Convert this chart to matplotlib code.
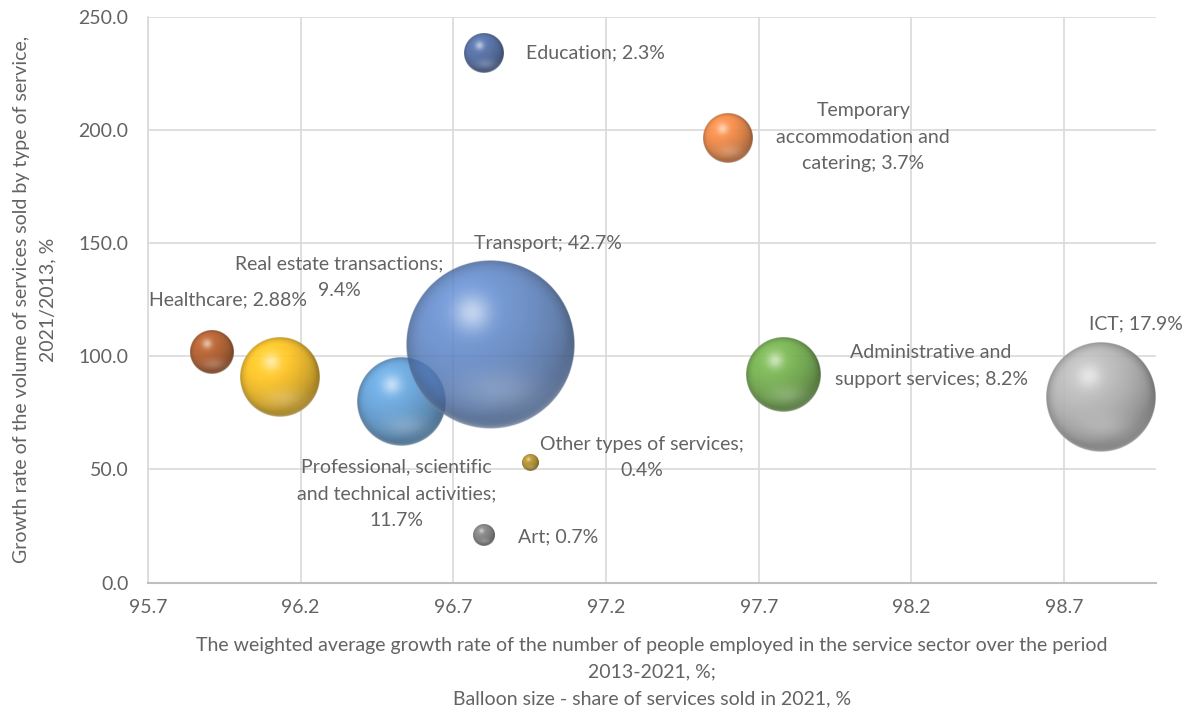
import numpy as np
import matplotlib.pyplot as plt
from matplotlib.colors import to_rgb
from matplotlib.ticker import FormatStrFormatter

# data
labels = ["Education; 2.3%",
          "Temporary\naccommodation and\ncatering; 3.7%",
          "Healthcare; 2.88%",
          "Real estate transactions;\n9.4%",
          "Professional, scientific\nand technical activities;\n11.7%",
          "Transport; 42.7%",
          "Other types of services;\n0.4%",
          "Art; 0.7%",
          "Administrative and\nsupport services; 8.2%",
          "ICT; 17.9%"]
employment = [96.80, 97.60, 95.91, 96.13, 96.53, 96.82, 96.95, 96.80, 97.78, 98.82]
volume = [234.0, 196.3, 102.0, 90.7, 79.9, 105.0, 52.7, 20.7, 91.7, 82.1]
share = [2.3, 3.7, 2.88, 9.4, 11.7, 42.7, 0.4, 0.7, 8.2, 17.9]
colors = ["#5470a8", "#f58c48", "#b8612f", "#ffc526", "#69a7de",
          "#5a84c8", "#b8952e", "#858585", "#79b553", "#b8b8b8"]
x_ticks = [95.7, 96.2, 96.7, 97.2, 97.7, 98.2, 98.7]
y_ticks = [0, 50, 100, 150, 200, 250]

# label placement (offset in pixels from bubble centre) - styling only
offsets = [(42, 0, "left"), (135, 1, "center"), (16, 52, "center"),
           (60, 100, "center"), (-5, -92, "center"), (58, 101, "center"),
           (112, 6, "center"), (34, -1, "left"), (148, 9, "center"),
           (35, 73, "center")]
alphas = [0.95, 0.95, 0.95, 0.95, 0.95, 0.85, 0.95, 0.95, 0.95, 0.92]

txt = "#636363"
font = dict(family=["Lato", "DejaVu Sans"], size=14)
plt.rcParams["font.family"] = ["Lato", "DejaVu Sans"]


def sphere(color, alpha, n=320):
    base = np.array(to_rgb(color))
    t = np.linspace(-1, 1, n)
    u, v = np.meshgrid(t, -t)
    rr = np.sqrt(u ** 2 + v ** 2)
    z = np.sqrt(np.clip(1 - rr ** 2, 0, 1))
    light = np.array([-0.35, 0.5, 0.8])
    light = light / np.linalg.norm(light)
    diff = np.clip(u * light[0] + v * light[1] + z * light[2], 0, 1)
    rgb = base[None, None, :] * (0.68 + 0.38 * diff)[..., None]
    refl = np.exp(-((u - 0.1) ** 2 / 0.25 + (v + 0.55) ** 2 / 0.06)) * 0.2
    rgb = rgb + (1 - rgb) * refl[..., None]
    spec = np.exp(-((u + 0.22) ** 2 + (v - 0.38) ** 2) / 0.045)
    rgb = rgb + (1 - rgb) * (0.55 * spec)[..., None]
    edge = np.clip((rr - 0.8) / 0.2, 0, 1) ** 2
    rgb = rgb * (1 - 0.18 * edge[..., None])
    rim = np.exp(-np.clip(1 - rr, 0, None) / 0.035) * np.clip(-v, 0, 1) * 0.45
    rgb = rgb + (1 - rgb) * rim[..., None]
    rgb = np.clip(rgb, 0, 1)
    a = np.clip((1 - rr) * n / 2, 0, 1) * alpha
    return np.dstack([rgb, a])


fig = plt.figure(figsize=(11.84, 7.08), dpi=100)
ax = fig.add_axes([148 / 1184, (708 - 582.5) / 708, (1155.7 - 148) / 1184, (582.5 - 17) / 708])
ax.set_xlim(95.7, 99.0)
ax.set_ylim(0, 250)

ax.set_xticks(x_ticks)
ax.set_yticks(y_ticks)
ax.xaxis.set_major_formatter(FormatStrFormatter("%.1f"))
ax.yaxis.set_major_formatter(FormatStrFormatter("%.1f"))
ax.grid(True, color="#d9d9d9", linewidth=1.2, zorder=0)
ax.set_axisbelow(True)
for s in ["top", "right"]:
    ax.spines[s].set_visible(False)
ax.spines["left"].set_color("#d9d9d9")
ax.spines["bottom"].set_color("#bfbfbf")
ax.spines["left"].set_linewidth(1.2)
ax.spines["bottom"].set_linewidth(1.5)
ax.tick_params(length=0, colors=txt, labelsize=14)
ax.tick_params(axis="y", pad=14)
ax.tick_params(axis="x", pad=12)

# bubble area proportional to share, largest radius ~84 px
max_r = 84.5
inv = ax.transData.inverted()
for i in range(len(share)):
    cx, cy = ax.transData.transform((employment[i], volume[i]))
    r = max_r * np.sqrt(share[i] / max(share))
    x0, y0 = inv.transform((cx - r, cy - r))
    x1, y1 = inv.transform((cx + r, cy + r))
    ax.imshow(sphere(colors[i], alphas[i]), extent=(x0, x1, y0, y1), origin="upper",
              aspect="auto", interpolation="bilinear", zorder=3 + i)
    dx, dy, ha = offsets[i]
    ax.annotate(labels[i], (employment[i], volume[i]), xytext=(dx, dy),
                textcoords="offset pixels", ha=ha, va="center", color=txt,
                multialignment="center", linespacing=1.68, zorder=30, **font)

ax.set_xlim(95.7, 99.0)
ax.set_ylim(0, 250)

ax.set_xlabel("The weighted average growth rate of the number of people employed in the service sector over the period\n"
              "2013-2021, %;\nBalloon size - share of services sold in 2021, %",
              color=txt, labelpad=15, linespacing=1.68, **font)
ax.set_ylabel("Growth rate of the volume of services sold by type of service,\n2021/2013, %",
              color=txt, labelpad=16, linespacing=1.68, **font)

fig.savefig("out.png", dpi=100)
